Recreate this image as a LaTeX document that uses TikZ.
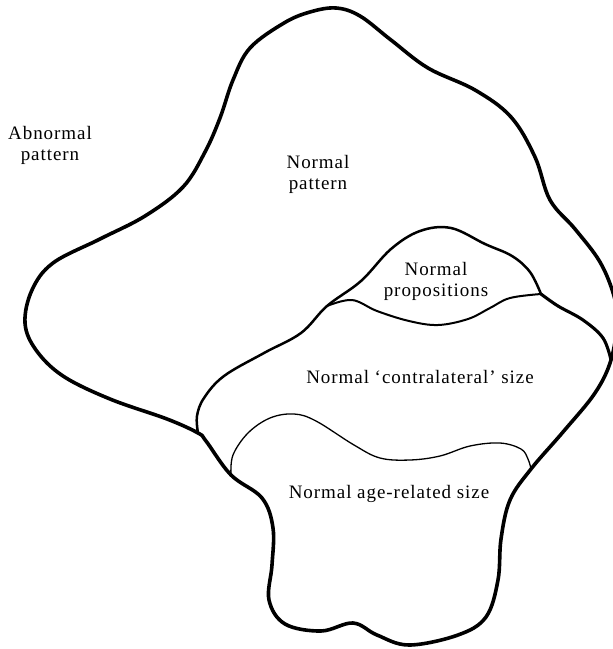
\documentclass[tikz,border=0pt]{standalone}
\usepackage{fontspec}
\setmainfont{Liberation Serif}[LetterSpace=5.0]
\begin{document}
\begin{tikzpicture}[x=1pt,y=-1pt,
  outline/.style={line width=3.6pt,line join=round,line cap=round},
  midline/.style={line width=2.5pt,line join=round,line cap=round},
  thinline/.style={line width=2.0pt,line join=round,line cap=round},
  hairline/.style={line width=1.3pt,line join=round,line cap=round},
  lbl/.style={inner sep=0pt,align=center,font=\fontsize{19}{21}\selectfont}]
\useasboundingbox (0,0) rectangle (613,649);
\clip (0,0) rectangle (613,649);
% outer boundary of the union
\draw[outline] plot[smooth cycle,tension=0.6] coordinates {
(198,433) (167,419) (110,399) (63,376) (36,350) (25,323) (32,290) (53,263)
(100,239) (145,216) (183,187) (205,152) (220,118) (233,80) (250,48) (284,23)
(310,12) (336,8) (360,16) (391,40) (428,68) (475,90) (511,117) (535,157) (550,200)
(575,229) (600,262) (614,296) (617,322) (611,360) (595,393) (563,432) (531,469)
(510,500) (501,539) (498,580) (486,617) (458,635) (409,645) (377,635) (353,623)
(321,631) (285,624) (269,600) (272,565) (273,528) (262,498) (231,475) (206,441)};
% contralateral left side and propositions top
\draw[midline] plot[smooth,tension=0.6] coordinates {
(198,433) (197,416) (204,398) (224,376) (264,353) (301,333) (327,306) (361,281)
(391,249) (420,231) (451,228) (485,244) (512,256) (530,272) (541,294)};
% contralateral upper right side
\draw[outline,line width=3.1pt] plot[smooth,tension=0.6] coordinates {
(541,294) (558,306) (583,320) (603,338) (611,360)};
% propositions bottom / contralateral top
\draw[thinline] plot[smooth,tension=0.6] coordinates {
(327,306) (352,300) (377,311) (409,321) (438,325) (468,319) (490,308) (510,298)
(541,294)};
% age-related top
\draw[hairline] plot[smooth,tension=0.6] coordinates {
(231,475) (233,455) (248,433) (270,418) (294,414) (316,421) (354,445) (380,458)
(410,460) (440,456) (470,446) (500,443) (521,449) (528,459) (531,469)};
% labels
\node[lbl] (abn) at (50,145) {Abnormal\\pattern};
\node[lbl] (npat) at (318,174) {Normal\\pattern};
\node[lbl] (nprop) at (436,281) {Normal\\propositions};
\node[lbl,anchor=base] (ncon) at (420,383) {Normal ‘contralateral’ size};
\node[lbl,anchor=base] (nage) at (389,498) {Normal age-related size};
\end{tikzpicture}
\end{document}
